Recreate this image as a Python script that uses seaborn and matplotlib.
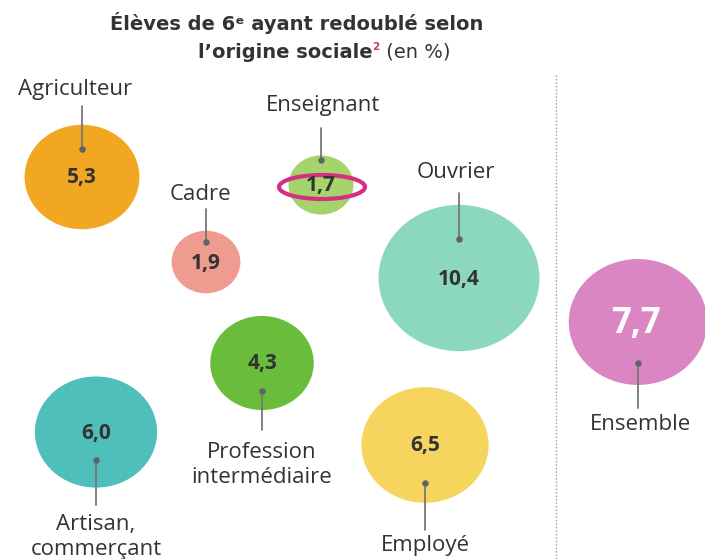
import numpy as np
import pandas as pd
import matplotlib
matplotlib.use("Agg")
import matplotlib.pyplot as plt
from matplotlib.path import Path
from matplotlib.transforms import Affine2D
from matplotlib.patches import Ellipse
import seaborn as sns

# ── DATA ────────────────────────────────────────────────────────────────────
categories = ["Agriculteur", "Cadre", "Enseignant", "Ouvrier",
              "Profession\nintermédiaire", "Artisan,\ncommerçant", "Employé", "Ensemble"]
values = [5.3, 1.9, 1.7, 10.4, 4.3, 6.0, 6.5, 7.7]
colors = ["#F2A722", "#EF9B90", "#A5D46C", "#8BD7C0",
          "#6ABD3B", "#4EBFBA", "#F6D55E", "#D986C2"]

# ── LAYOUT (pixel coordinates, origin top-left) ────────────────────────────
bx = [82, 206, 321, 459, 262, 96, 425, 638]
by = [177, 262, 185, 278, 363, 432, 445, 322]
dot_y = [149, 242, 160, 239, 391, 460, 483, 363]
line_end = [106, 209, 128, 193, 430, 505, 530, 408]
label_y = [90, 195, 106, 173, 465, 537, 545, 424]
label_x = [75, 200, 323, 456, 262, 96, 425, 640]

W, H, DPI = 705, 559, 100
INK = "#333333"
GRAY = "#777777"

df = pd.DataFrame({"cat": categories, "val": values, "x": bx, "y": by})

sns.set_style("white")
plt.rcParams["font.family"] = ["Open Sans", "DejaVu Sans"]

fig = plt.figure(figsize=(W / DPI, H / DPI), dpi=DPI)
ax = fig.add_axes([0, 0, 1, 1])
ax.set_xlim(0, W)
ax.set_ylim(H, 0)
ax.axis("off")

# ellipse marker, slightly wider than tall; area proportional to value
ell = Path.unit_circle().transformed(Affine2D().scale(1.1, 1.0))
k = (0.72 * 49.9) ** 2
sns.scatterplot(data=df, x="x", y="y", hue="cat", palette=dict(zip(categories, colors)),
                size="val", sizes=(k * min(values), k * max(values)),
                size_norm=(min(values), max(values)),
                marker=ell, linewidth=0, legend=False, ax=ax, zorder=2)

# highlight ring around Enseignant
i_ens = categories.index("Enseignant")
ax.add_patch(Ellipse((bx[i_ens] + 1, by[i_ens] + 2), 86, 24, fill=False,
                     edgecolor="#D62E82", lw=3, zorder=3))

# leader lines, dots, labels, values
for i, (c, v) in enumerate(zip(categories, values)):
    ax.plot([bx[i], bx[i]], [dot_y[i], line_end[i]], color=GRAY, lw=1.3, zorder=4)
    ax.scatter([bx[i]], [dot_y[i]], s=22, color="#5f6368", zorder=5, linewidth=0)
    ax.text(label_x[i], label_y[i], c, ha="center", va="center", fontsize=16,
            color=INK, linespacing=1.2, zorder=5)
    txt = f"{v:.1f}".replace(".", ",")
    if c == "Ensemble":
        ax.text(bx[i] - 2, by[i] + 2, txt, ha="center", va="center", fontsize=25,
                fontweight="bold", color="white", zorder=5)
    else:
        ax.text(bx[i], by[i] + 1, txt, ha="center", va="center", fontsize=15,
                fontweight="bold", color=INK, zorder=5)

# dotted separator
ax.vlines(556, 75, H, colors="#9a9a9a", linestyles=(0, (1, 1.5)), lw=1, zorder=1)

# ── TITLE (composite pieces) ───────────────────────────────────────────────
TFONT = ["DejaVu Sans"]
ax.text(297, 23, "Élèves de 6ᵉ ayant redoublé selon", ha="center", va="center",
        fontsize=14, fontweight="bold", color=INK, family=TFONT)

renderer = fig.canvas.get_renderer()
pieces = [("l’origine sociale", dict(fontsize=14, fontweight="bold", color=INK), 0),
          ("2", dict(fontsize=7.5, fontweight="bold", color="#D62E82"), -5),
          (" (en %)", dict(fontsize=14, color=INK), 0)]
widths = []
for s, kw, dy in pieces:
    t = ax.text(0, 0, s, family=TFONT, **kw)
    widths.append(t.get_window_extent(renderer).width)
    t.remove()
x0 = 324 - sum(widths) / 2
for (s, kw, dy), w in zip(pieces, widths):
    ax.text(x0, 52 + dy, s, ha="left", va="center", family=TFONT, **kw)
    x0 += w

fig.savefig("out.png", dpi=DPI)
